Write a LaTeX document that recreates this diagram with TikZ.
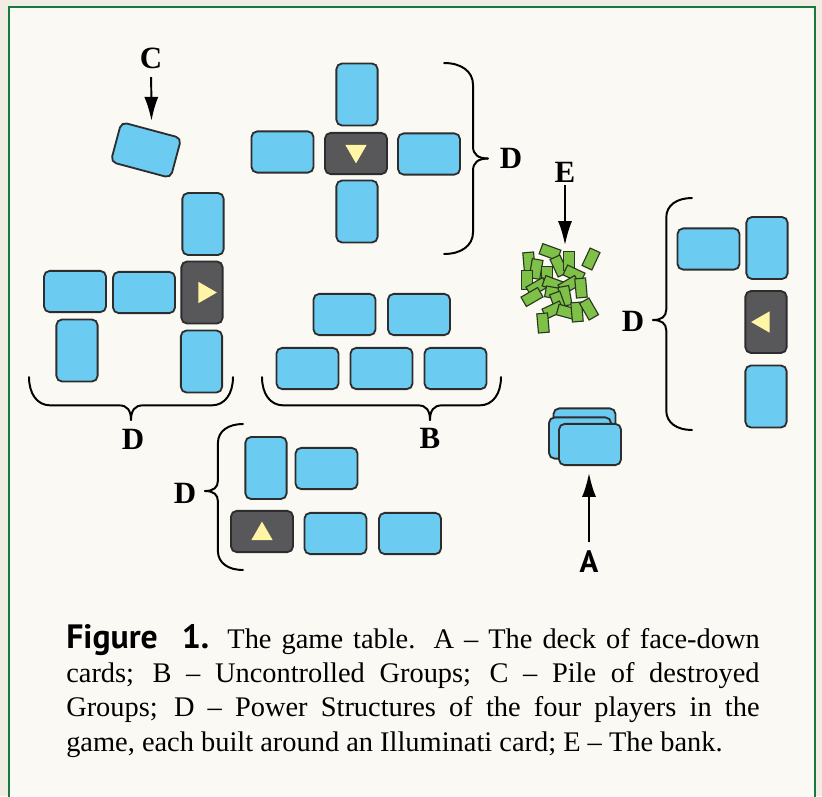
\documentclass[tikz,border=0pt]{standalone}
\usepackage{fontspec}
\setmainfont{Liberation Serif}
\setsansfont{PT Sans}
\usetikzlibrary{arrows.meta, shapes.geometric}

\definecolor{cardblue}{RGB}{108,203,241}
\definecolor{illugray}{RGB}{88,88,90}
\definecolor{cardline}{RGB}{45,45,45}
\definecolor{triyellow}{RGB}{255,245,165}
\definecolor{billgreen}{RGB}{126,192,72}
\definecolor{billline}{RGB}{40,55,30}
\definecolor{tablebg}{RGB}{250,249,244}
\definecolor{pagebg}{RGB}{241,237,227}
\definecolor{framegreen}{RGB}{22,122,62}

\tikzset{
  pics/curly/.style args={#1/#2/#3}{code={
    \draw[brc] (0,0) .. controls (0,{0.38*#3}) and ({0.18*#3},{0.66*#3}) .. ({0.5*#3},{0.66*#3})
      -- ({#2-0.27*#3},{0.66*#3}) .. controls ({#2-0.09*#3},{0.66*#3}) and (#2,{0.78*#3}) .. (#2,#3);
    \draw[brc] (#1,0) .. controls (#1,{0.38*#3}) and ({#1-0.18*#3},{0.66*#3}) .. ({#1-0.5*#3},{0.66*#3})
      -- ({#2+0.27*#3},{0.66*#3}) .. controls ({#2+0.09*#3},{0.66*#3}) and (#2,{0.78*#3}) .. (#2,#3);
  }}
}

\begin{document}
\begin{tikzpicture}[x=0.025cm, y=-0.025cm, >=latex]
  \tikzstyle{hcard} = [draw=cardline, line width=1.3pt, fill=cardblue, rounded corners=4pt, minimum width=1.55cm, minimum height=1.03cm, inner sep=0pt]
  \tikzstyle{vcard} = [hcard, minimum width=1.03cm, minimum height=1.55cm]
  \tikzstyle{hillu} = [hcard, fill=illugray]
  \tikzstyle{villu} = [vcard, fill=illugray]
  \tikzstyle{eye} = [fill=triyellow, regular polygon, regular polygon sides=3, minimum size=0.62cm, inner sep=0pt]
  \tikzstyle{bill} = [draw=billline, fill=billgreen, line width=0.8pt, minimum width=0.27cm, minimum height=0.48cm, inner sep=0pt]
  \tikzstyle{brc} = [line width=1.4pt, line cap=round]
  \tikzstyle{arr} = [-{Latex[length=17pt, width=10pt]}, line width=1.4pt]
  \tikzstyle{lbl} = [font=\fontsize{22pt}{24pt}\selectfont\bfseries, inner sep=2pt]

  % table
  \useasboundingbox (0,0) rectangle (822,796);
  \fill[pagebg] (0,0) rectangle (822,796);
  \filldraw[fill=tablebg, draw=framegreen, line width=2pt] (9,7) rectangle (815,830);

  % C - destroyed groups
  \node[hcard, rotate=-15] (dead) at (146,150) {};
  \node[lbl] (C) at (151,58) {C};
  \draw[arr, shorten >=6pt, shorten <=4pt] (C) -- (dead.north);

  % north player
  \node[vcard] (nT) at (357,94.5) {};
  \node[hcard] (nL) at (282.5,152) {};
  \node[hillu] (nI) at (356,153.5) {};
  \node[eye, regular polygon rotate=180] (nEye) at (356,151) {};
  \node[hcard] (nR) at (429,154) {};
  \node[vcard] (nB) at (357,211.5) {};
  \pic[rotate=90] at (444,254) {curly=191/95.5/44};
  \node[lbl] (nD) at (511,158) {D};

  % west player
  \node[vcard] (wT) at (203,224) {};
  \node[villu] (wI) at (202,292.5) {};
  \node[eye, regular polygon rotate=-90] (wEye) at (204.5,292.5) {};
  \node[vcard] (wB) at (201.5,361.5) {};
  \node[hcard] (wL1) at (75,291.5) {};
  \node[hcard] (wL2) at (144,292.5) {};
  \node[vcard] (wLB) at (77,350.5) {};
  \pic at (29,377) {curly=204/102/43};
  \node[lbl] (wD) at (133,439) {D};

  % B - uncontrolled groups
  \node[hcard] (b1) at (344.5,314.5) {};
  \node[hcard] (b2) at (419,314.5) {};
  \node[hcard] (b3) at (307.5,368.5) {};
  \node[hcard] (b4) at (381.5,368.5) {};
  \node[hcard] (b5) at (455.5,368.5) {};
  \pic at (262,377) {curly=239/168/43};
  \node[lbl] (B) at (430,438) {B};

  % south player
  \node[vcard] (sV) at (266,468) {};
  \node[hcard] (sH) at (326.5,468.5) {};
  \node[hillu] (sI) at (262,531.5) {};
  \node[eye] (sEye) at (262,534) {};
  \node[hcard] (sH2) at (335.5,533.5) {};
  \node[hcard] (sH3) at (410,533.5) {};
  \pic[rotate=-90] at (243,424) {curly=146/67/38};
  \node[lbl] (sD) at (185,493) {D};

  % east player
  \node[hcard] (eH) at (708.5,249) {};
  \node[vcard] (eV) at (767,248) {};
  \node[villu] (eI) at (766,322) {};
  \node[eye, regular polygon rotate=90] (eEye) at (763.5,322) {};
  \node[vcard] (eB) at (766,396.5) {};
  \pic[rotate=-90] at (692,198) {curly=232/122/39};
  \node[lbl] (eD) at (633,321) {D};

  % E - the bank
  \foreach \bx/\by/\ba [count=\i] in {550/252/70, 529/262/5, 536/269/-10, 559/266/25, 569/261/0,
      591/259/-25, 547/276/0, 574/274/65, 527/280/0, 537/287/-60, 553/284/70, 569/285/-60,
      581/288/5, 532/297/-60, 555/293/80, 565/296/10, 558/302/20, 553/310/-65, 567/312/75,
      577/312/5, 589/309/30, 543/323/5}
    \node[bill, rotate=\ba] (bill\i) at (\bx,\by) {};
  \coordinate (bank) at (565,245);
  \node[lbl] (E) at (565,172) {E};
  \draw[arr] (E) -- (bank);

  % A - the deck
  \node[hcard] (deck1) at (584.5,429) {};
  \node[hcard] (deck2) at (580,438) {};
  \node[hcard] (deck3) at (590,444.5) {};
  \node[font=\fontsize{22pt}{24pt}\selectfont\sffamily\bfseries, inner sep=2pt] (A) at (589,562) {A};
  \draw[arr, shorten >=5pt, shorten <=4pt] (A.north) -- (A |- deck3.south);

  % caption
  \node[anchor=base west, text width=17.33cm, align=justify, inner sep=0pt,
        font=\fontsize{20.2pt}{24.5pt}\selectfont] (cap) at (66,648)
    {{\sffamily\bfseries\fontsize{24pt}{24.5pt}\selectfont Figure\ \ 1.} The game table. A – The deck of face-down\linebreak
     cards; B – Uncontrolled Groups; C – Pile of destroyed\linebreak
     Groups; D – Power Structures of the four players in the\linebreak
     game, each built around an Illuminati card; E – The bank.};
\end{tikzpicture}
\end{document}
